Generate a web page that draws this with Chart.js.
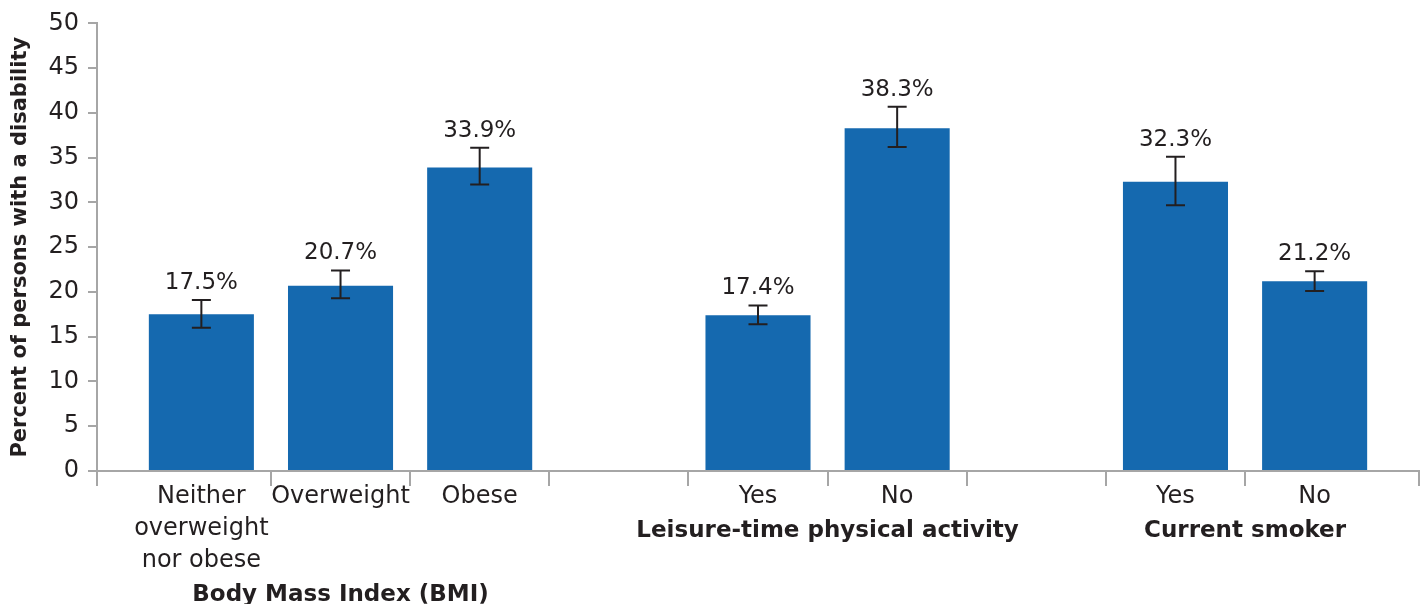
<!DOCTYPE html>
<html>
<head>
<meta charset="utf-8">
<script src="https://cdn.jsdelivr.net/npm/chart.js@4"></script>
<style>
  html, body { margin: 0; padding: 0; background: #fff; }
</style>
</head>
<body>
<canvas id="chart" width="1427" height="604"></canvas>
<script>
// slots along the x axis; '' marks the empty gap between groups
const categories = [['Neither', 'overweight', 'nor obese'], 'Overweight', 'Obese', '', 'Yes', 'No', '', 'Yes', 'No']
const values = [17.5, 20.7, 33.9, null, 17.4, 38.3, null, 32.3, 21.2]
const lower = [16.0, 19.3, 32.0, null, 16.4, 36.2, null, 29.7, 20.1]
const upper = [19.1, 22.4, 36.1, null, 18.5, 40.7, null, 35.1, 22.3]
const groups = ['Body Mass Index (BMI)', 'Leisure-time physical activity', 'Current smoker']
const groupSlots = [[0, 2], [4, 5], [7, 8]]
const yTicks = [0, 5, 10, 15, 20, 25, 30, 35, 40, 45, 50]

const FONT = '"DejaVu Sans", sans-serif'
const INK = '#231f20'
const AXIS = '#a6a6a6'
const xMin = -0.75
const xMax = categories.length - 0.25

const errorBars = {
  id: 'errorBars',
  afterDatasetsDraw(chart) {
    const { ctx, scales: { x, y } } = chart
    ctx.save()
    ctx.strokeStyle = INK
    ctx.fillStyle = INK
    ctx.lineWidth = 2
    ctx.font = '23px ' + FONT
    ctx.textAlign = 'center'
    ctx.textBaseline = 'alphabetic'
    values.forEach((v, i) => {
      if (v == null) return
      const px = x.getPixelForValue(i)
      const lo = y.getPixelForValue(lower[i])
      const hi = y.getPixelForValue(upper[i])
      ctx.beginPath()
      ctx.moveTo(px, lo); ctx.lineTo(px, hi)
      ctx.moveTo(px - 9.5, lo); ctx.lineTo(px + 9.5, lo)
      ctx.moveTo(px - 9.5, hi); ctx.lineTo(px + 9.5, hi)
      ctx.stroke()
      ctx.fillText(v.toFixed(1) + '%', px, hi - 11)
    })
    ctx.restore()
  }
}

const groupTitles = {
  id: 'groupTitles',
  afterDraw(chart) {
    const { ctx, chartArea } = chart
    const x = chart.scales.x
    ctx.save()
    ctx.font = 'bold 23px ' + FONT
    ctx.fillStyle = INK
    ctx.textAlign = 'center'
    ctx.textBaseline = 'alphabetic'
    groups.forEach((g, k) => {
      const [a, b] = groupSlots[k]
      let lines = 1
      for (let i = a; i <= b; i++) {
        if (Array.isArray(categories[i])) lines = Math.max(lines, categories[i].length)
      }
      ctx.fillText(g, x.getPixelForValue((a + b) / 2), chartArea.bottom + 34 + lines * 32)
    })
    ctx.restore()
  }
}

window.addEventListener('load', () => {
  const points = []
  values.forEach((v, i) => { if (v != null) points.push({ x: i, y: v }) })

  new Chart(document.getElementById('chart'), {
    type: 'bar',
    data: {
      datasets: [{
        data: points,
        backgroundColor: '#1569af',
        categoryPercentage: 1,
        barPercentage: 0.755
      }]
    },
    options: {
      responsive: false,
      animation: false,
      layout: { padding: { top: 18, right: 8, left: 0, bottom: 0 } },
      plugins: {
        legend: { display: false },
        tooltip: { enabled: false }
      },
      scales: {
        x: {
          type: 'linear',
          position: 'bottom',
          weight: 0,
          offset: false,
          min: xMin,
          max: xMax,
          afterBuildTicks(s) {
            const t = [xMin]
            for (let i = 0; i < categories.length - 1; i++) t.push(i + 0.5)
            t.push(xMax)
            s.ticks = t.map(v => ({ value: v }))
          },
          afterFit(s) { s.height = 10 },
          ticks: { display: false },
          grid: { offset: false, drawOnChartArea: false, drawTicks: true, tickLength: 15, color: AXIS, lineWidth: 2 },
          border: { display: true, color: AXIS, width: 2 }
        },
        xl: {
          type: 'linear',
          position: 'bottom',
          weight: 1,
          offset: false,
          min: xMin,
          max: xMax,
          afterBuildTicks(s) {
            s.ticks = categories.map((c, i) => ({ value: i }))
          },
          afterFit(s) { s.height = 123 },
          ticks: {
            autoSkip: false,
            maxRotation: 0,
            minRotation: 0,
            padding: 0,
            color: INK,
            font: { family: FONT, size: 24, lineHeight: '32px' },
            callback: (v) => categories[v]
          },
          grid: { offset: false, display: false, drawTicks: false },
          border: { display: false }
        },
        y: {
          min: 0,
          max: 50,
          afterBuildTicks(s) { s.ticks = yTicks.map(v => ({ value: v })) },
          afterFit(s) { s.width = 97 },
          ticks: { color: INK, padding: 9, font: { family: FONT, size: 24 } },
          grid: { drawOnChartArea: false, tickLength: 9, color: AXIS, lineWidth: 2 },
          border: { display: true, color: AXIS, width: 2 },
          title: {
            display: true,
            text: 'Percent of persons with a disability',
            color: INK,
            font: { family: FONT, size: 21, weight: 'bold' },
            padding: { top: 8, bottom: 0 }
          }
        }
      }
    },
    plugins: [errorBars, groupTitles]
  })
})
</script>
</body>
</html>
